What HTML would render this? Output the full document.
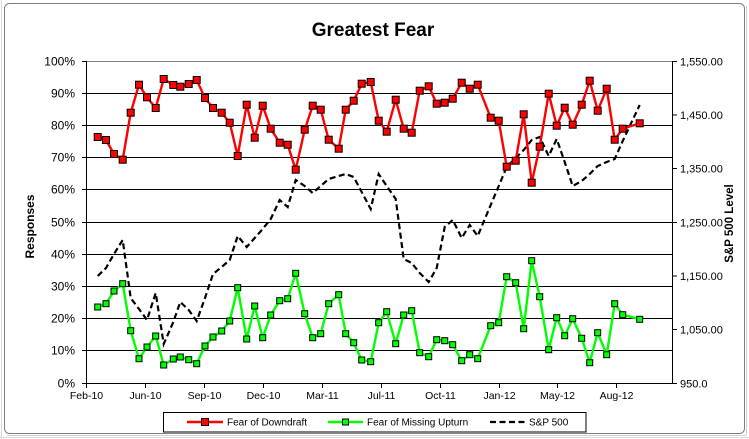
<!DOCTYPE html>
<html><head><meta charset="utf-8"><style>
html,body{margin:0;padding:0;background:#fff;}
svg{display:block;font-family:"Liberation Sans",Arial,sans-serif;}
</style></head><body>
<svg width="749" height="439" viewBox="0 0 749 439" xmlns="http://www.w3.org/2000/svg">
<defs>
<marker id="mr" markerUnits="userSpaceOnUse" markerWidth="10" markerHeight="10" refX="5" refY="5" viewBox="0 0 10 10"><rect x="1.5" y="1.5" width="7" height="7" fill="#ff0000" stroke="#000" stroke-width="1"/></marker>
<marker id="mg" markerUnits="userSpaceOnUse" markerWidth="10" markerHeight="10" refX="5" refY="5" viewBox="0 0 10 10"><rect x="2" y="2" width="6" height="6" fill="#00ff00" stroke="#000" stroke-width="1"/></marker>
</defs>
<rect x="0" y="0" width="749" height="439" fill="#fff"/>
<line x1="1.5" y1="0" x2="1.5" y2="439" stroke="#d8d8d8"/>
<line x1="0" y1="437.5" x2="749" y2="437.5" stroke="#d8d8d8"/>
<rect x="4.5" y="3.5" width="740" height="430" rx="5" fill="#fff" stroke="#7f7f7f" stroke-width="1"/>
<line x1="746.5" y1="6" x2="746.5" y2="435" stroke="#d0d0d0"/>
<line x1="7" y1="435.5" x2="746" y2="435.5" stroke="#d0d0d0"/>
<text x="373" y="36" font-size="19" font-weight="bold" text-anchor="middle">Greatest Fear</text>
<line x1="86" y1="61.5" x2="672" y2="61.5" stroke="#808080"/>
<g stroke="#000" stroke-width="1">
<line x1="82" y1="93.5" x2="672" y2="93.5"/>
<line x1="82" y1="125.5" x2="672" y2="125.5"/>
<line x1="82" y1="157.5" x2="672" y2="157.5"/>
<line x1="82" y1="189.5" x2="672" y2="189.5"/>
<line x1="82" y1="222.5" x2="672" y2="222.5"/>
<line x1="82" y1="254.5" x2="672" y2="254.5"/>
<line x1="82" y1="286.5" x2="672" y2="286.5"/>
<line x1="82" y1="318.5" x2="672" y2="318.5"/>
<line x1="82" y1="350.5" x2="672" y2="350.5"/>
<line x1="82" y1="383.5" x2="672" y2="383.5"/>
<line x1="82" y1="61.5" x2="86" y2="61.5"/>
<line x1="86.5" y1="61" x2="86.5" y2="384"/>
<line x1="672.5" y1="61" x2="672.5" y2="384"/>
<line x1="672" y1="61.5" x2="677" y2="61.5"/>
<line x1="672" y1="115" x2="677" y2="115"/>
<line x1="672" y1="168.5" x2="677" y2="168.5"/>
<line x1="672" y1="222.5" x2="677" y2="222.5"/>
<line x1="672" y1="276" x2="677" y2="276"/>
<line x1="672" y1="329.5" x2="677" y2="329.5"/>
<line x1="672" y1="383.5" x2="677" y2="383.5"/>
<line x1="86.5" y1="384" x2="86.5" y2="388"/>
<line x1="145.5" y1="384" x2="145.5" y2="388"/>
<line x1="204.5" y1="384" x2="204.5" y2="388"/>
<line x1="263.5" y1="384" x2="263.5" y2="388"/>
<line x1="322.5" y1="384" x2="322.5" y2="388"/>
<line x1="381.5" y1="384" x2="381.5" y2="388"/>
<line x1="440.5" y1="384" x2="440.5" y2="388"/>
<line x1="499.5" y1="384" x2="499.5" y2="388"/>
<line x1="557.5" y1="384" x2="557.5" y2="388"/>
<line x1="616.5" y1="384" x2="616.5" y2="388"/>
</g>
<g font-size="12" text-anchor="end" fill="#000">
<text x="75" y="65.5">100%</text>
<text x="75" y="97.5">90%</text>
<text x="75" y="129.5">80%</text>
<text x="75" y="161.5">70%</text>
<text x="75" y="193.5">60%</text>
<text x="75" y="226.5">50%</text>
<text x="75" y="258.5">40%</text>
<text x="75" y="290.5">30%</text>
<text x="75" y="322.5">20%</text>
<text x="75" y="354.5">10%</text>
<text x="75" y="387.5">0%</text>
</g>
<g font-size="11" fill="#000">
<text x="680" y="65.5">1,550.00</text>
<text x="680" y="119">1,450.00</text>
<text x="680" y="172.5">1,350.00</text>
<text x="680" y="226.5">1,250.00</text>
<text x="680" y="280">1,150.00</text>
<text x="680" y="333.5">1,050.00</text>
<text x="680" y="387.5">950.0</text>
</g>
<g font-size="10.5" text-anchor="middle" fill="#000">
<text x="86.5" y="399">Feb-10</text>
<text x="145.5" y="399">Jun-10</text>
<text x="204.5" y="399">Sep-10</text>
<text x="263.5" y="399">Dec-10</text>
<text x="322.5" y="399">Mar-11</text>
<text x="381.5" y="399">Jul-11</text>
<text x="440.5" y="399">Oct-11</text>
<text x="499.5" y="399">Jan-12</text>
<text x="557.5" y="399">May-12</text>
<text x="616.5" y="399">Aug-12</text>
</g>
<text transform="translate(34,226.5) rotate(-90)" font-size="12" font-weight="bold" text-anchor="middle">Responses</text>
<text transform="translate(733,223.5) rotate(-90)" font-size="11.5" font-weight="bold" text-anchor="middle">S&amp;P 500 Level</text>
<polyline fill="none" stroke="#000" stroke-width="2.2" stroke-dasharray="6,3.5" points="97.7,276 106,268 114,254 122.7,240 130.7,298 139,309 147,320 155.7,293 163.7,344 173.3,322 180.3,302 188.7,310 196.7,321 205,298 213,274 221.7,267 229.7,260 237.7,236 246.7,247 254.7,238 262.7,229 270.7,219 279.7,200 287.7,207 295.7,180 304.7,186 312.7,193 320.7,186 328.7,179 338.7,176 345.7,174 353.7,177 361.7,192 370.7,209 378.7,174 386.7,186 395.7,199 403.7,259 411.7,263 419.7,273 428.7,282 436.7,268 444.7,227 452.7,220 461.7,238 469.7,225 477.7,236 490.7,205 498.7,186 506.7,167 515.7,158 523.7,150 531.7,140 539.7,137 548.7,156 556.7,139 564.7,162 572.7,186 581.7,181 589.7,174 597.7,166 606.7,162 614.7,159 622.7,141 639.7,105"/>
<polyline fill="none" stroke="#ff0000" stroke-width="2.4" stroke-linejoin="round" marker-start="url(#mr)" marker-mid="url(#mr)" marker-end="url(#mr)" points="97.7,137 106,140 114,154 122.7,159.7 130.7,112.7 139,84.7 147,97.3 155.7,108 163.7,79 173.3,85 180.3,86.7 188.7,84 196.7,80 205,98 213,108 221.7,112.7 229.7,122.7 237.7,156 246.7,104.7 254.7,137.7 262.7,105.7 270.7,128.7 279.7,142.7 287.7,144.7 295.7,169.7 304.7,129.7 312.7,105.7 320.7,109.7 328.7,139.7 338.7,148.7 345.7,109.7 353.7,100.7 361.7,83.7 370.7,82 378.7,120.7 386.7,131.7 395.7,99.7 403.7,128.7 411.7,132.7 419.7,90.7 428.7,86.3 436.7,103.7 444.7,102.7 452.7,98.7 461.7,82.7 469.7,88.7 477.7,84.7 490.7,117.7 498.7,120.7 506.7,166.7 515.7,160.7 523.7,114.3 531.7,182.7 539.7,146.7 548.7,93.7 556.7,125.7 564.7,107.7 572.7,124.7 581.7,104.7 589.7,80.7 597.7,110.7 606.7,88.7 614.7,139.7 622.7,128.7 639.7,123.3"/>
<polyline fill="none" stroke="#00ff00" stroke-width="2.4" stroke-linejoin="round" marker-start="url(#mg)" marker-mid="url(#mg)" marker-end="url(#mg)" points="97.7,307 106,303.7 114,291 122.7,283.7 130.7,330.7 139,358.7 147,347 155.7,336 163.7,365 173.3,359 180.3,357 188.7,359.7 196.7,363.7 205,346 213,337 221.7,331 229.7,321 237.7,287.7 246.7,339 254.7,306 262.7,337.7 270.7,315 279.7,300.7 287.7,298.7 295.7,273.3 304.7,313.7 312.7,337.7 320.7,333.7 328.7,303.7 338.7,294.7 345.7,333.7 353.7,342.7 361.7,360 370.7,361.7 378.7,322.7 386.7,311.7 395.7,343.7 403.7,315 411.7,310.7 419.7,352.7 428.7,356.7 436.7,339.7 444.7,340.7 452.7,344.7 461.7,360.7 469.7,354.7 477.7,358.7 490.7,325.7 498.7,322.7 506.7,276.7 515.7,282.7 523.7,328.7 531.7,260.7 539.7,296.7 548.7,349.7 556.7,317.7 564.7,335.7 572.7,318.7 581.7,338.3 589.7,362.7 597.7,332.7 606.7,354.7 614.7,303.7 622.7,314.7 639.7,319.3"/>
<rect x="163.5" y="412.5" width="422.5" height="19.5" fill="#fff" stroke="#000" stroke-width="1"/>
<line x1="187" y1="422" x2="223" y2="422" stroke="#ff0000" stroke-width="2.4"/>
<rect x="201.5" y="418.5" width="7" height="7" fill="#ff0000" stroke="#000"/>
<text x="227" y="425.5" font-size="10">Fear of Downdraft</text>
<line x1="328" y1="422" x2="363" y2="422" stroke="#00ff00" stroke-width="2.4"/>
<rect x="342.5" y="419" width="6" height="6" fill="#00ff00" stroke="#000"/>
<text x="367" y="425.5" font-size="10">Fear of Missing Upturn</text>
<line x1="490" y1="422" x2="525" y2="422" stroke="#000" stroke-width="2.2" stroke-dasharray="6,3.5"/>
<text x="529" y="425.5" font-size="10">S&amp;P 500</text>
</svg>
</body></html>
